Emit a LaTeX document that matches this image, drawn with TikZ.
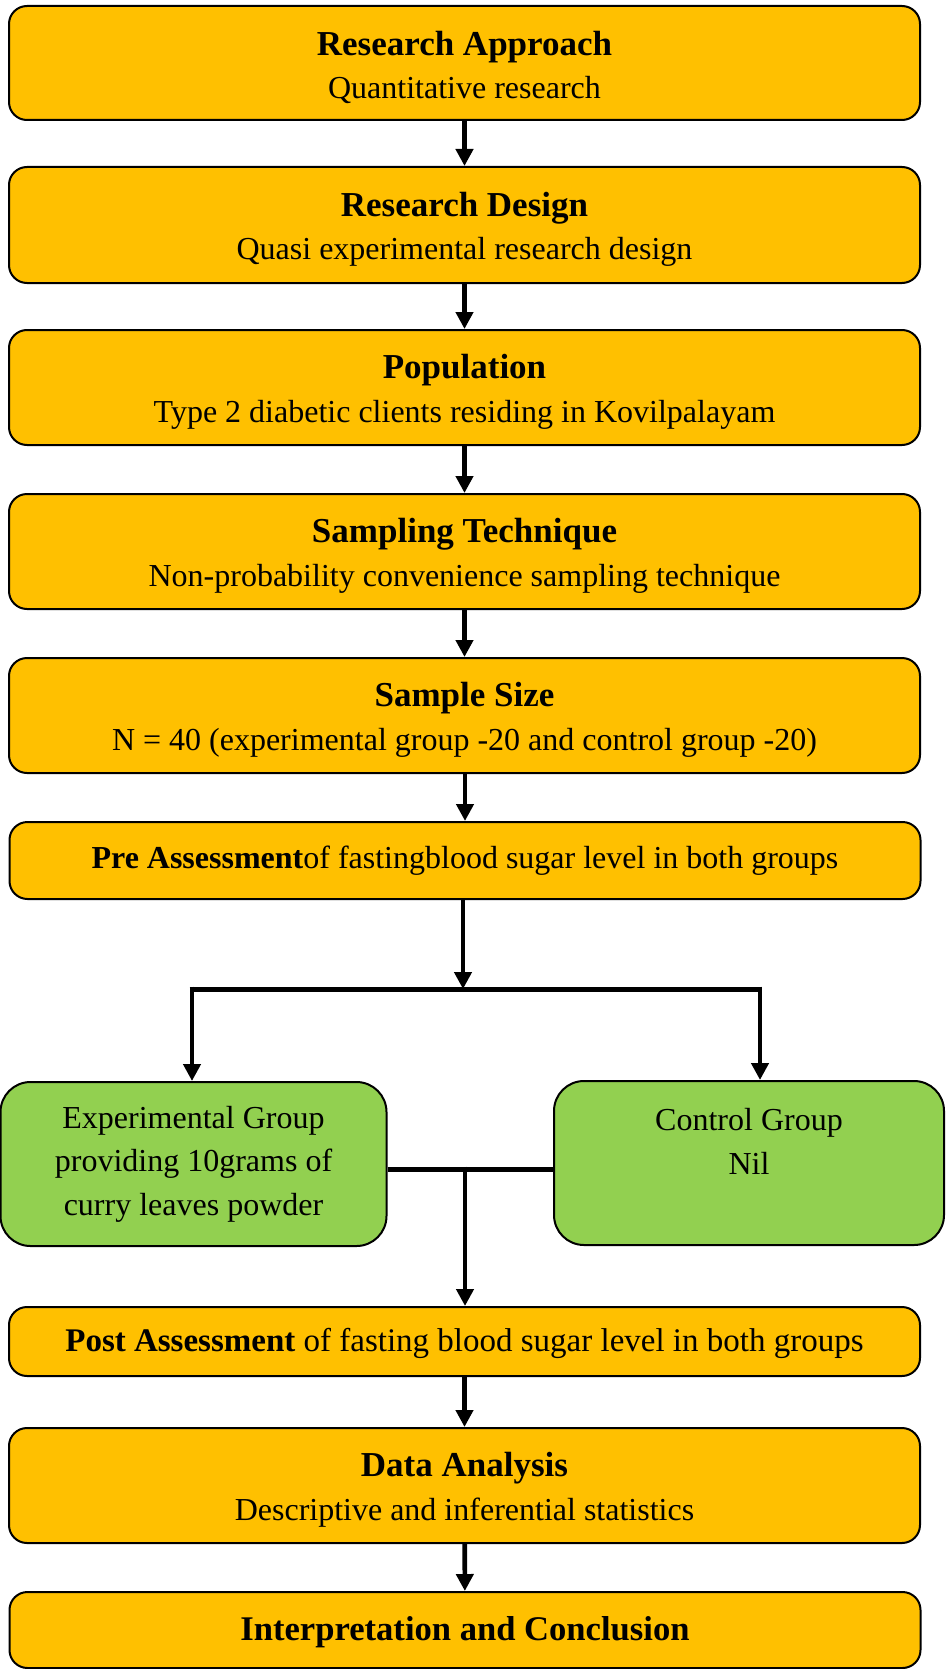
\documentclass[tikz,border=0pt]{standalone}
\usepackage{fontspec}
\setmainfont{Liberation Serif}
\usetikzlibrary{arrows.meta,calc}

\definecolor{boxgold}{HTML}{FFC000}
\definecolor{boxgreen}{HTML}{92D050}

% title line carries a tall strut so the two-line block sits a little lower
\newcommand{\ttl}[1]{{\fontsize{17.5}{21.7}\selectfont\bfseries\rule{0pt}{16.5pt}#1}}
\newcommand{\sub}[1]{{\fontsize{16}{21.7}\selectfont #1}}

\tikzset{
  goldbox/.style={draw=black, line width=1pt, fill=boxgold, rounded corners=9pt,
    align=center, inner sep=0pt, minimum width=455.5pt,
    font=\fontsize{16}{21.7}\selectfont},
  greenbox/.style={draw=black, line width=1pt, fill=boxgreen, rounded corners=15pt,
    align=center, inner sep=0pt, minimum height=82pt,
    font=\fontsize{16}{21.7}\selectfont},
  flow/.style={line width=2.3pt, -{Triangle[length=8.5pt,width=8.5pt]}},
  joint/.style={line width=2.5pt},
}

\begin{document}
\begin{tikzpicture}[x=0.5pt,y=-0.5pt]
  \useasboundingbox (0,0) rectangle (947,1669);

  % main column of steps
  \node[goldbox, minimum height=57pt]   (approach) at (464.5,63)
    {\ttl{Research Approach}\\\sub{Quantitative research}};
  \node[goldbox, minimum height=58pt]   (design) at (464.5,225)
    {\ttl{Research Design}\\\sub{Quasi experimental research design}};
  \node[goldbox, minimum height=57.5pt] (population) at (464.5,387.5)
    {\ttl{Population}\\\sub{Type 2 diabetic clients residing in Kovilpalayam}};
  \node[goldbox, minimum height=57.5pt] (sampling) at (464.5,551.5)
    {\ttl{Sampling Technique}\\\sub{Non-probability convenience sampling technique}};
  \node[goldbox, minimum height=57.5pt] (size) at (464.5,715.5)
    {\ttl{Sample Size}\\\sub{N = 40 (experimental group -20 and control group -20)}};
  \node[goldbox, minimum height=38.5pt] (pre) at (465,860.5)
    {\textbf{Pre Assessment}of fastingblood sugar level in both groups};

  % the two groups
  \node[greenbox, minimum width=193pt] (expgroup) at (193.5,1164)
    {Experimental Group\\providing 10grams of\\curry leaves powder};
  \node[greenbox, minimum width=195pt] (ctrlgroup) at (749,1163)
    {Control Group\\Nil\\\phantom{Nil}};

  \node[goldbox, minimum height=34.5pt] (post) at (464.5,1341.5)
    {\fontsize{16.5}{21.7}\selectfont\rule{0pt}{14pt}\textbf{Post Assessment} of fasting blood sugar level in both groups};
  \node[goldbox, minimum height=57.5pt] (analysis) at (464.5,1485.5)
    {\ttl{Data Analysis}\\\sub{Descriptive and inferential statistics}};
  \node[goldbox, minimum height=38pt]   (interp) at (465,1630)
    {\fontsize{17.3}{21.7}\selectfont\bfseries\rule{0pt}{14.5pt}Interpretation and Conclusion};

  % straight flow
  \draw[flow] (approach) -- (design);
  \draw[flow] (design) -- (population);
  \draw[flow] (population) -- (sampling);
  \draw[flow] (sampling) -- (size);
  \draw[flow] (size.south -| pre.north) -- (pre.north);

  % split into the two groups
  \coordinate (split) at (463,989);
  \coordinate (splitL) at (192,989);
  \coordinate (splitR) at (760,989);
  \draw[flow] (pre.south -| split) -- (split);
  \draw[joint] ([xshift=-1.2pt]splitL) -- ([xshift=1.2pt]splitR);
  \draw[flow] ([yshift=1.2pt]splitL) -- (splitL |- expgroup.north);
  \draw[flow] ([yshift=1.2pt]splitR) -- (splitR |- ctrlgroup.north);

  % merge towards post assessment
  \coordinate (merge) at (465,1169);
  \draw[joint] (expgroup.east |- merge) -- (ctrlgroup.west |- merge);
  \draw[flow] ([yshift=1.2pt]merge) -- (merge |- post.north);

  \draw[flow] (post) -- (analysis);
  \draw[flow] (analysis) -- (interp);
\end{tikzpicture}
\end{document}
